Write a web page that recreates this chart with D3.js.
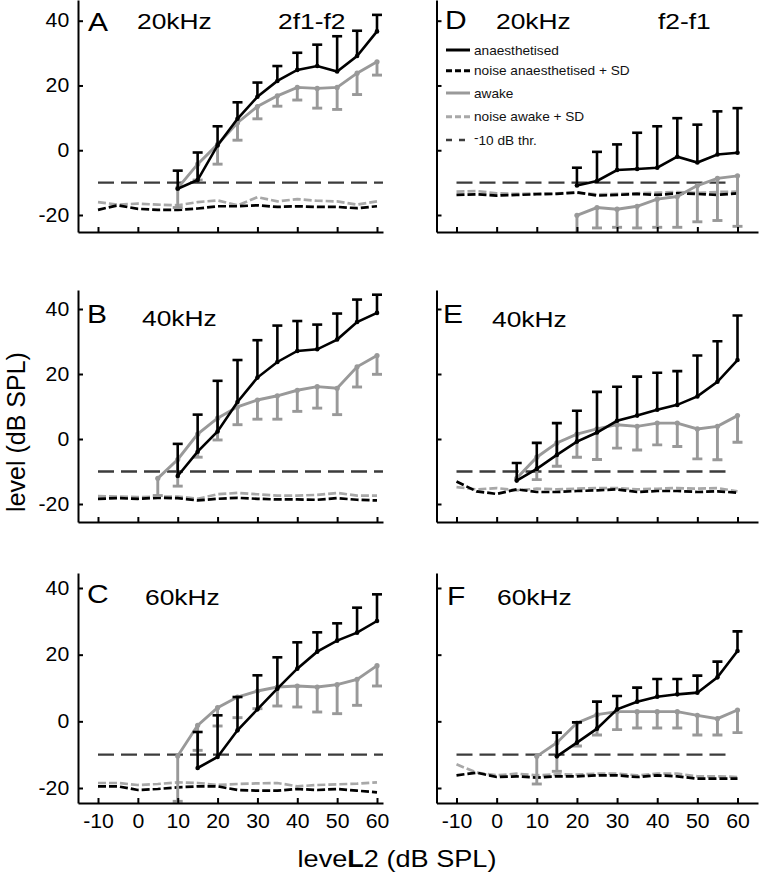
<!DOCTYPE html>
<html><head><meta charset="utf-8">
<script src="https://cdn.jsdelivr.net/npm/d3@7"></script>
<style>body{margin:0;background:#fff}</style></head>
<body>
<script>
// ---------- DATA ----------
const noiseX = [-10,-5,0,5,10,15,20,25,30,35,40,45,50,55,60];
const xTicks = [-10,0,10,20,30,40,50,60];
const yTicks = [-20,0,20,40];

// Panel A : 20kHz 2f1-f2
const A_anesX = [10,15,20,25,30,35,40,45,50,55,60];
const A_anesY = [-11.9,-9.2,1.5,9.7,16.5,21.4,24.8,26,24.3,29.1,36.7];
const A_anesTop = [-6.3,-0.7,7.4,14.8,20.9,26,30.1,32.6,35.2,36.9,41.8];
const A_awakeX = [10,15,20,25,30,35,40,45,50,55,60];
const A_awakeY = [-11.7,-4.3,1.8,8.5,13.5,16.8,19.4,19.1,19.4,23.8,27.3];
const A_awakeBot = [-17.7,-9.2,-4.3,3.1,9.7,13.6,15.5,13,12.6,17.2,23.2];
const A_noiseAnes = [-18.4,-17,-18.1,-18.4,-18.4,-18,-17.3,-17.3,-17,-17.5,-17.3,-17.5,-17.5,-17.9,-17.3];
const A_noiseAwake = [-16,-16.8,-16.5,-16.8,-17,-16,-15.5,-17,-14.5,-15.8,-15.1,-15.6,-15.8,-16.8,-15.8];

// Panel B : 40kHz 2f1-f2
const B_anesX = [10,15,20,25,30,35,40,45,50,55,60];
const B_anesY = [-11.4,-3.9,2.3,11.4,18.9,23.7,27.1,27.6,30.6,36,38.8];
const B_anesTop = [-1.5,7.5,17.9,24.3,30.4,34.9,36.3,35.2,38.6,42.9,44.4];
const B_awakeX = [5,10,15,20,25,30,35,40,45,50,55,60];
const B_awakeY = [-12.1,-6.3,1.5,6.4,9.9,12,13.3,15,16.1,15.6,22.2,25.7];
const B_awakeBot = [-17.4,-14.5,-5.6,-0.3,4.4,6.1,6.1,8.5,9.5,7.5,16,19.9];
const B_noiseAnes = [-18.4,-18.2,-18.4,-18.1,-18.2,-18.9,-18.4,-18.1,-18.4,-18.6,-18.6,-18.7,-18.2,-18.7,-18.9];
const B_noiseAwake = [-17.6,-17.7,-17.9,-17.7,-17.7,-18.4,-17,-16.6,-17,-17.4,-17.4,-17.2,-16.6,-17.4,-17.4];

// Panel C : 60kHz 2f1-f2
const C_anesX = [15,20,25,30,35,40,45,50,55,60];
const C_anesY = [-14,-10.7,-2.7,3.6,9.8,15.8,20.9,24.2,26.6,30.1];
const C_anesTop = [-3.2,1.8,7.3,13.8,19.2,23.7,26.7,29.4,34.1,38.1];
const C_awakeX = [10,15,20,25,30,35,40,45,50,55,60];
const C_awakeY = [-10.4,-1.2,4.1,7.3,9.1,10.3,10.6,10.3,11,12.6,16.7];
const C_awakeBot = [-24,-8.7,-1.4,1.1,3.8,4.6,4.3,2.8,2.3,4.8,10.6];
const C_noiseAnes = [-19.5,-19.5,-20.6,-20.3,-19.8,-19.5,-19.5,-20.6,-20.8,-20.8,-20.3,-20.6,-20.3,-20.8,-21.3];
const C_noiseAwake = [-18.5,-18.5,-19.1,-18.8,-18.3,-18.5,-19.1,-18.8,-18.6,-18.5,-19.5,-19.1,-18.9,-18.7,-18.3];

// Panel D : 20kHz f2-f1
const D_anesX = [20,25,30,35,40,45,50,55,60];
const D_anesY = [-10.9,-9.5,-6.1,-5.8,-5.4,-2,-3.8,-1.3,-0.8];
const D_anesTop = [-5.4,-0.5,1.8,5.4,7.4,9.9,7.9,12,13];
const D_awakeX = [20,25,30,35,40,45,50,55,60];
const D_awakeY = [-20.1,-17.7,-18.2,-17.3,-15.1,-14.3,-10.9,-8.7,-7.9];
const D_awakeBot = [-27,-24,-23.8,-24,-23.8,-23.8,-22.1,-21.7,-23.5];
const D_noiseAnes = [-13.8,-13.6,-14,-13.8,-13.6,-13.5,-13,-14,-13.8,-13.5,-13.8,-13.3,-13.5,-13.8,-13.3];
const D_noiseAwake = [-12.8,-12.6,-13.3,-13.5,-13.3,-13.3,-13.2,-13.6,-13.5,-13.3,-13.1,-12.9,-13.2,-12.9,-12.8];

// Panel E : 40kHz f2-f1
const E_anesX = [5,10,15,20,25,30,35,40,45,50,55,60];
const E_anesY = [-12.8,-9.2,-4.9,-0.8,2,5.6,7.2,9,10.5,13.1,17.6,24.3];
const E_anesTop = [-7.4,-1.2,4.9,8.7,14.5,16.1,19.2,20.4,20.9,25.7,30.1,38];
const E_awakeX = [5,10,15,20,25,30,35,40,45,50,55,60];
const E_awakeY = [-12.1,-5.6,-1.2,1.5,3.1,4.4,3.9,4.9,4.9,3.1,3.9,7.2];
const E_awakeBot = [-12.1,-12.5,-8.4,-5.6,-6.3,-2.8,-3.4,-1.8,-2.3,-6.1,-6.4,-1];
const E_noiseAnes = [-13.1,-16.1,-16.9,-15.5,-16.3,-16.3,-16,-15.8,-15.5,-16.3,-16,-16,-16.3,-16.1,-16.5];
const E_noiseAwake = [-14.8,-15.5,-15.1,-15.8,-15.3,-15.5,-15.3,-15.1,-15.1,-15.5,-15.3,-15.1,-15.3,-15.1,-16.1];

// Panel F : 60kHz f2-f1
const F_anesX = [15,20,25,30,35,40,45,50,55,60];
const F_anesY = [-10.5,-6.4,-2.2,3.6,5.9,7.4,8.1,8.6,13.2,21.1];
const F_anesTop = [-3.4,-0.3,5.9,7.6,10.1,12.7,12.7,13.7,17.9,27];
const F_awakeX = [10,15,20,25,30,35,40,45,50,55,60];
const F_awakeY = [-10.5,-6.4,-0.5,2,2.9,2.9,2.9,2.9,1.8,0.8,3.4];
const F_awakeBot = [-18.8,-15,-7.4,-4.1,-2.5,-2,-2,-2,-4.1,-4.1,-3.4];
const F_noiseAnes = [-16.2,-15.4,-16.7,-16.5,-16.9,-16.5,-16.5,-16.2,-16.2,-16.7,-16.2,-16.5,-17.2,-17.2,-17.2];
const F_noiseAwake = [-12.9,-15.4,-16.2,-15.7,-16.2,-15.9,-16,-15.7,-15.7,-16.2,-15.7,-15.7,-16.5,-16.5,-16.7];

const threshold = -10;
const thrRangeLeft = [-10, 61.5];
const thrRangeRight = [-10, 58.5];

const panelLetters = ["A","B","C","D","E","F"];
const freqLabels = ["20kHz","40kHz","60kHz","20kHz","40kHz","60kHz"];
const productLabels = ["2f1-f2","f2-f1"];
const legendLabels = ["anaesthetised","noise anaesthetised + SD","awake","noise awake + SD","-10 dB thr."];

// ---------- LAYOUT ----------
const W = 760, H = 875;
const FONT = "'Liberation Sans', Arial, Helvetica, sans-serif";
const BLACK = "#000", GRAY = "#999", GRAYN = "#a8a8a8", THR = "#3c3c3c";
const cols = [
  {x0: 78, xm10: 98, x60: 377, xEnd: 383},
  {x0: 436.5, xm10: 456.5, x60: 737.5, xEnd: 758}
];
const rows = [
  {top: 0, bot: 232, ym20: 215, y40: 20.7},
  {top: 290, bot: 522, ym20: 504, y40: 309},
  {top: 573, bot: 803, ym20: 788, y40: 588}
];
const letterPos = [[88,31],[87,323],[87,603],[445,29],[443,323],[447,605]];
const freqPos = [[137,29],[142,326],[145,605],[496,29],[492,327],[497,605]];

const panels = [
  {c:0,r:0,ax:A_anesX,ay:A_anesY,at:A_anesTop,wx:A_awakeX,wy:A_awakeY,wb:A_awakeBot,na:A_noiseAnes,nw:A_noiseAwake},
  {c:0,r:1,ax:B_anesX,ay:B_anesY,at:B_anesTop,wx:B_awakeX,wy:B_awakeY,wb:B_awakeBot,na:B_noiseAnes,nw:B_noiseAwake},
  {c:0,r:2,ax:C_anesX,ay:C_anesY,at:C_anesTop,wx:C_awakeX,wy:C_awakeY,wb:C_awakeBot,na:C_noiseAnes,nw:C_noiseAwake},
  {c:1,r:0,ax:D_anesX,ay:D_anesY,at:D_anesTop,wx:D_awakeX,wy:D_awakeY,wb:D_awakeBot,na:D_noiseAnes,nw:D_noiseAwake},
  {c:1,r:1,ax:E_anesX,ay:E_anesY,at:E_anesTop,wx:E_awakeX,wy:E_awakeY,wb:E_awakeBot,na:E_noiseAnes,nw:E_noiseAwake},
  {c:1,r:2,ax:F_anesX,ay:F_anesY,at:F_anesTop,wx:F_awakeX,wy:F_awakeY,wb:F_awakeBot,na:F_noiseAnes,nw:F_noiseAwake}
];

const svg = d3.select("body").append("svg")
  .attr("width", W).attr("height", H)
  .style("font-family", FONT);
svg.append("rect").attr("width", W).attr("height", H).attr("fill", "#fff");
const defs = svg.append("defs");

function stretchText(g, x, y, str, size, sx, anchor) {
  return g.append("text")
    .attr("transform", `translate(${x},${y}) scale(${sx},1)`)
    .attr("font-size", size)
    .attr("text-anchor", anchor || "start")
    .attr("fill", "#000")
    .text(str);
}
const fmt = d => (d < 0 ? "-" + Math.abs(d) : String(d));

panels.forEach((p, i) => {
  const col = cols[p.c], row = rows[p.r];
  const x = d3.scaleLinear().domain([-10, 60]).range([col.xm10, col.x60]);
  const y = d3.scaleLinear().domain([-20, 40]).range([row.ym20, row.y40]);
  const xAxisScale = x.copy().domain([x.invert(col.x0), x.invert(col.xEnd)]).range([col.x0, col.xEnd]);
  const yAxisScale = y.copy().domain([y.invert(row.bot), y.invert(row.top)]).range([row.bot, row.top]);

  const g = svg.append("g");
  const cid = "clip" + i;
  defs.append("clipPath").attr("id", cid).append("rect")
    .attr("x", col.x0).attr("y", row.top)
    .attr("width", col.xEnd - col.x0).attr("height", row.bot - row.top);
  const plot = g.append("g").attr("clip-path", `url(#${cid})`);

  // noise lines
  const lineN = d3.line().x((d, k) => x(noiseX[k])).y(d => y(d));
  plot.append("path").datum(p.nw).attr("d", lineN)
    .attr("fill", "none").attr("stroke", GRAYN).attr("stroke-width", 2.7)
    .attr("stroke-dasharray", "8,3");
  plot.append("path").datum(p.na).attr("d", lineN)
    .attr("fill", "none").attr("stroke", BLACK).attr("stroke-width", 2.7)
    .attr("stroke-dasharray", "8,3");

  // threshold
  const tr = p.c === 0 ? thrRangeLeft : thrRangeRight;
  plot.append("line")
    .attr("x1", x(tr[0])).attr("x2", x(tr[1]))
    .attr("y1", y(threshold)).attr("y2", y(threshold))
    .attr("stroke", THR).attr("stroke-width", 2.4).attr("stroke-dasharray", "16,7");

  // awake (gray) : line + downward error bars + dots
  const awake = p.wx.map((v, k) => ({x: v, y: p.wy[k], e: p.wb[k]}));
  const line = d3.line().x(d => x(d.x)).y(d => y(d.y));
  plot.append("path").datum(awake).attr("d", line)
    .attr("fill", "none").attr("stroke", GRAY).attr("stroke-width", 2.9);
  const wb = plot.append("g").attr("stroke", GRAY).attr("stroke-width", 2.9);
  awake.filter(d => d.e !== d.y).forEach(d => {
    wb.append("line").attr("x1", x(d.x)).attr("x2", x(d.x)).attr("y1", y(d.y)).attr("y2", y(d.e));
    wb.append("line").attr("x1", x(d.x) - 5).attr("x2", x(d.x) + 5).attr("y1", y(d.e)).attr("y2", y(d.e));
  });
  plot.append("g").selectAll("circle").data(awake).join("circle")
    .attr("cx", d => x(d.x)).attr("cy", d => y(d.y)).attr("r", 2.6).attr("fill", GRAY);

  // anaesthetised (black)
  const anes = p.ax.map((v, k) => ({x: v, y: p.ay[k], e: p.at[k]}));
  plot.append("path").datum(anes).attr("d", line)
    .attr("fill", "none").attr("stroke", BLACK).attr("stroke-width", 2.6);
  const ab = plot.append("g").attr("stroke", BLACK).attr("stroke-width", 2.6);
  anes.forEach(d => {
    ab.append("line").attr("x1", x(d.x)).attr("x2", x(d.x)).attr("y1", y(d.y)).attr("y2", y(d.e));
    ab.append("line").attr("x1", x(d.x) - 5).attr("x2", x(d.x) + 5).attr("y1", y(d.e)).attr("y2", y(d.e));
  });
  plot.append("g").selectAll("circle").data(anes).join("circle")
    .attr("cx", d => x(d.x)).attr("cy", d => y(d.y)).attr("r", 2.3).attr("fill", BLACK);

  // axes
  const showX = p.r === 2, showY = p.c === 0;
  const xa = g.append("g").attr("transform", `translate(0,${row.bot})`)
    .call(d3.axisBottom(xAxisScale).tickValues(xTicks).tickSizeInner(-5).tickSizeOuter(0)
      .tickPadding(11).tickFormat(showX ? fmt : () => ""));
  const ya = g.append("g").attr("transform", `translate(${col.x0},0)`)
    .call(d3.axisLeft(yAxisScale).tickValues(yTicks).tickSizeInner(-5).tickSizeOuter(0)
      .tickPadding(8).tickFormat(showY ? fmt : () => ""));
  [xa, ya].forEach(a => {
    a.select(".domain").attr("stroke", "#000").attr("stroke-width", 2);
    a.selectAll(".tick line").attr("stroke", "#000").attr("stroke-width", 2);
    a.selectAll(".tick text").attr("font-size", 19.3).attr("font-family", FONT)
      .attr("fill", "#000").attr("transform", "scale(1.1,1)");
  });

  // labels
  stretchText(svg, letterPos[i][0], letterPos[i][1], panelLetters[i], 25, 1.2);
  stretchText(svg, freqPos[i][0], freqPos[i][1], freqLabels[i], 22, 1.2);
});

stretchText(svg, 278, 29, productLabels[0], 22, 1.2);
stretchText(svg, 658, 29, productLabels[1], 22, 1.2);

// legend (in panel D)
const lg = svg.append("g");
const legRows = [50, 70.7, 93, 116.7, 140];
const legStyles = [
  {c: BLACK, d: null, w: 3},
  {c: BLACK, d: "6,3", w: 3},
  {c: GRAY, d: null, w: 3},
  {c: GRAYN, d: "6,3", w: 3},
  {c: THR, d: "6,7", w: 2.6}
];
legendLabels.forEach((t, k) => {
  const yy = legRows[k];
  lg.append("line").attr("x1", 446).attr("x2", 470).attr("y1", yy).attr("y2", yy)
    .attr("stroke", legStyles[k].c).attr("stroke-width", legStyles[k].w)
    .attr("stroke-dasharray", legStyles[k].d);
  const tx = lg.append("text")
    .attr("transform", `translate(474,${yy + 4.5}) scale(1.1,1)`)
    .attr("font-size", 12.4).attr("fill", "#111");
  if (t.startsWith("-")) {
    tx.append("tspan").attr("dy", -3).text("-");
    tx.append("tspan").attr("dy", 3).text(t.slice(1));
  } else tx.text(t);
});

// axis titles
svg.append("text")
  .attr("transform", "translate(25,432) rotate(-90)")
  .attr("text-anchor", "middle").attr("font-size", 25).attr("fill", "#000")
  .text("level (dB SPL)");
const xt = svg.append("text")
  .attr("transform", "translate(397,867) scale(1.13,1)")
  .attr("text-anchor", "middle").attr("font-size", 24).attr("fill", "#000");
xt.append("tspan").text("leve");
xt.append("tspan").attr("font-weight", "bold").text("L");
xt.append("tspan").text("2 (dB SPL)");
</script>
</body></html>
